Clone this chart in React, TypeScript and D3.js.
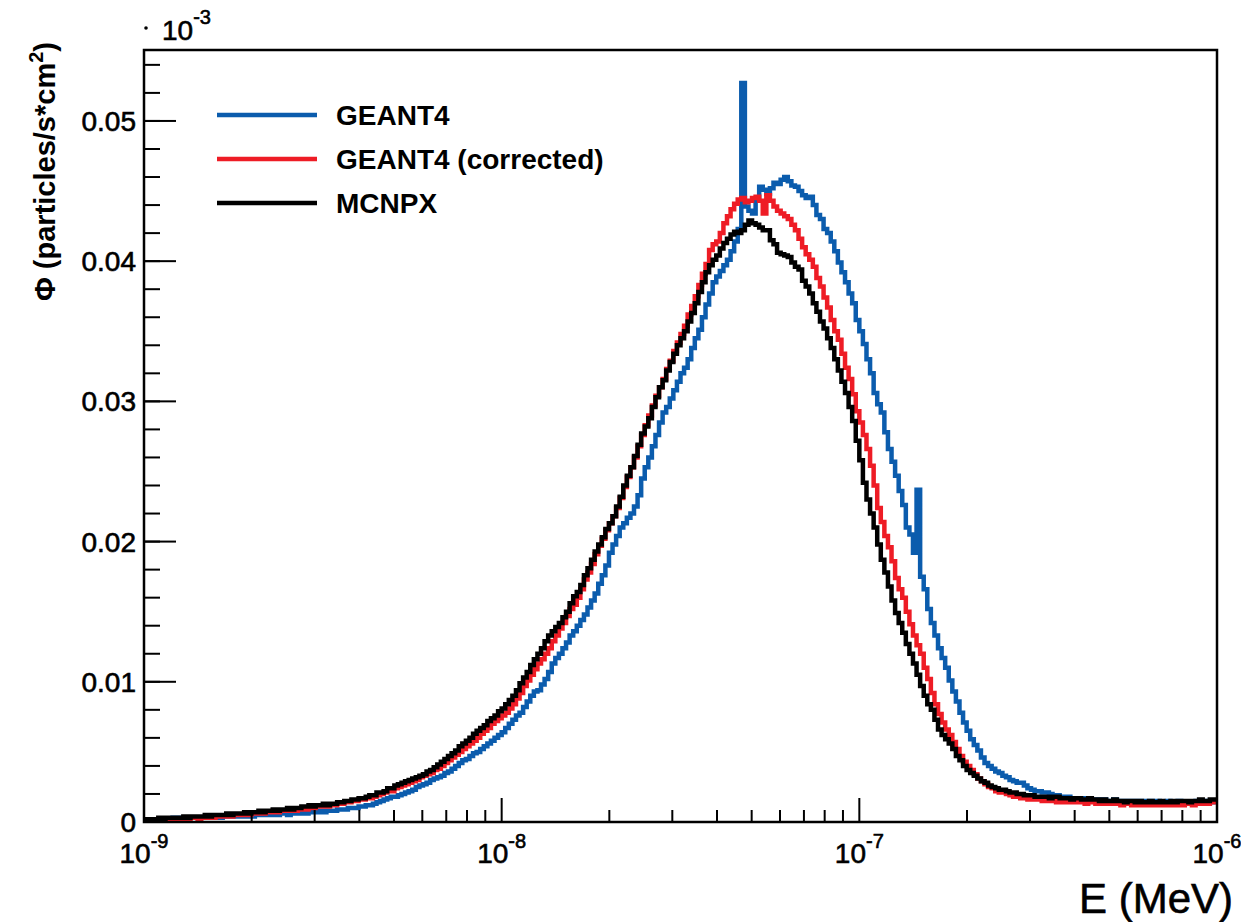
import React from "react";
import * as d3 from "d3";

// Histogram: 300 log-spaced bins from 1e-9 to 1e-6 MeV (0.01 decade each)
// Values in units of 1e-5 particles/s/cm^2 (axis shows value x 10^-3 -> label = v/100)
const LOG_START = -9;
const LOG_END = -6;
const BIN_DECADES = 0.01;

const geant4: number[] = [
  0.01,0.02,0.01,0.02,0.02,0.02,0.02,0.02,0.03,0.02,
  0.03,0.02,0.03,0.03,0.03,0.03,0.03,0.03,0.04,0.03,
  0.04,0.03,0.04,0.04,0.04,0.04,0.04,0.05,0.04,0.05,
  0.04,0.05,0.05,0.05,0.05,0.05,0.06,0.05,0.06,0.06,
  0.05,0.06,0.06,0.06,0.07,0.06,0.07,0.07,0.07,0.08,
  0.07,0.08,0.08,0.08,0.09,0.09,0.09,0.10,0.10,0.10,
  0.11,0.11,0.12,0.12,0.13,0.14,0.15,0.16,0.17,0.18,
  0.18,0.19,0.20,0.21,0.22,0.23,0.25,0.26,0.27,0.28,
  0.30,0.31,0.32,0.33,0.35,0.36,0.38,0.40,0.42,0.44,
  0.45,0.47,0.49,0.50,0.52,0.54,0.56,0.58,0.60,0.62,
  0.64,0.67,0.70,0.73,0.76,0.78,0.82,0.86,0.90,0.93,
  0.94,0.98,1.02,1.07,1.13,1.17,1.20,1.24,1.28,1.33,
  1.36,1.40,1.44,1.48,1.53,1.58,1.63,1.70,1.76,1.83,
  1.92,1.98,2.04,2.10,2.13,2.17,2.20,2.25,2.33,2.45,
  2.53,2.60,2.68,2.76,2.85,2.92,2.96,3.02,3.08,3.14,
  3.20,3.24,3.30,3.38,3.45,3.51,3.60,3.69,3.77,3.85,
  3.89,3.93,3.97,4.01,4.07,4.14,4.23,5.27,4.39,4.36,
  4.34,4.44,4.53,4.51,4.48,4.52,4.56,4.55,4.58,4.60,
  4.57,4.54,4.53,4.50,4.47,4.45,4.46,4.40,4.33,4.30,
  4.23,4.20,4.14,4.07,3.99,3.92,3.85,3.77,3.70,3.58,
  3.50,3.41,3.30,3.20,3.06,2.98,2.92,2.78,2.66,2.57,
  2.47,2.36,2.26,2.10,2.05,1.92,2.37,1.75,1.66,1.52,
  1.42,1.33,1.24,1.17,1.10,1.01,0.93,0.86,0.78,0.71,
  0.65,0.59,0.55,0.51,0.46,0.42,0.40,0.38,0.36,0.35,
  0.33,0.32,0.30,0.29,0.28,0.28,0.26,0.24,0.23,0.22,
  0.22,0.21,0.21,0.20,0.19,0.19,0.18,0.18,0.18,0.17,
  0.17,0.17,0.16,0.17,0.16,0.16,0.16,0.15,0.16,0.15,
  0.15,0.16,0.15,0.15,0.14,0.15,0.15,0.14,0.15,0.15,
  0.14,0.15,0.14,0.15,0.14,0.14,0.15,0.14,0.14,0.15,
  0.14,0.13,0.14,0.14,0.15,0.14,0.14,0.15,0.14,0.15,
];

const geant4Corrected: number[] = [
  0.02,0.01,0.02,0.01,0.02,0.02,0.02,0.01,0.02,0.02,
  0.02,0.03,0.02,0.03,0.03,0.02,0.03,0.03,0.04,0.03,
  0.04,0.04,0.04,0.05,0.04,0.05,0.05,0.05,0.06,0.05,
  0.06,0.06,0.07,0.06,0.07,0.07,0.08,0.07,0.08,0.08,
  0.08,0.09,0.08,0.09,0.10,0.09,0.10,0.10,0.11,0.11,
  0.12,0.11,0.12,0.12,0.13,0.13,0.14,0.14,0.15,0.15,
  0.16,0.16,0.17,0.17,0.18,0.19,0.20,0.21,0.22,0.22,
  0.24,0.25,0.26,0.27,0.28,0.29,0.30,0.32,0.33,0.34,
  0.35,0.37,0.38,0.40,0.42,0.44,0.46,0.48,0.50,0.52,
  0.54,0.56,0.58,0.60,0.63,0.65,0.67,0.70,0.72,0.74,
  0.76,0.78,0.81,0.84,0.88,0.92,0.97,1.01,1.05,1.09,
  1.13,1.16,1.20,1.24,1.29,1.33,1.38,1.42,1.47,1.52,
  1.55,1.60,1.66,1.73,1.78,1.84,1.91,1.97,2.02,2.08,
  2.13,2.18,2.24,2.31,2.39,2.46,2.53,2.60,2.68,2.76,
  2.83,2.90,2.97,3.04,3.10,3.16,3.23,3.29,3.36,3.42,
  3.48,3.54,3.62,3.68,3.75,3.83,3.91,3.98,4.08,4.12,
  4.14,4.20,4.27,4.32,4.37,4.41,4.44,4.45,4.42,4.43,
  4.45,4.46,4.43,4.34,4.47,4.43,4.39,4.36,4.34,4.32,
  4.30,4.26,4.22,4.16,4.10,4.05,4.01,3.96,3.88,3.82,
  3.74,3.67,3.58,3.50,3.44,3.34,3.24,3.16,3.05,2.93,
  2.85,2.76,2.66,2.54,2.40,2.24,2.14,2.04,1.96,1.86,
  1.74,1.66,1.60,1.50,1.41,1.33,1.26,1.20,1.10,1.02,
  0.92,0.84,0.77,0.71,0.66,0.62,0.57,0.52,0.47,0.43,
  0.40,0.37,0.34,0.31,0.29,0.27,0.25,0.24,0.22,0.21,
  0.21,0.20,0.19,0.18,0.18,0.17,0.17,0.16,0.17,0.16,
  0.16,0.15,0.16,0.15,0.15,0.14,0.15,0.14,0.15,0.14,
  0.14,0.15,0.14,0.13,0.14,0.14,0.13,0.14,0.13,0.14,
  0.13,0.13,0.14,0.12,0.13,0.13,0.12,0.13,0.12,0.13,
  0.12,0.13,0.12,0.12,0.13,0.12,0.13,0.12,0.12,0.13,
  0.12,0.13,0.13,0.12,0.13,0.13,0.14,0.13,0.14,0.14,
];

const mcnpx: number[] = [
  0.02,0.02,0.02,0.02,0.03,0.02,0.03,0.03,0.03,0.03,
  0.03,0.04,0.03,0.04,0.04,0.04,0.04,0.05,0.04,0.05,
  0.05,0.05,0.05,0.06,0.05,0.06,0.06,0.06,0.07,0.06,
  0.07,0.07,0.08,0.07,0.08,0.08,0.09,0.08,0.09,0.09,
  0.10,0.09,0.10,0.10,0.11,0.11,0.12,0.11,0.12,0.12,
  0.13,0.12,0.13,0.13,0.14,0.14,0.15,0.15,0.16,0.16,
  0.17,0.17,0.18,0.19,0.19,0.21,0.21,0.22,0.24,0.24,
  0.26,0.27,0.28,0.29,0.30,0.31,0.32,0.33,0.34,0.36,
  0.37,0.39,0.41,0.43,0.45,0.47,0.49,0.51,0.54,0.56,
  0.58,0.60,0.63,0.65,0.67,0.69,0.72,0.74,0.76,0.79,
  0.81,0.84,0.87,0.90,0.94,0.99,1.03,1.07,1.12,1.16,
  1.20,1.24,1.29,1.33,1.36,1.39,1.42,1.46,1.50,1.56,
  1.61,1.64,1.69,1.76,1.81,1.87,1.93,1.98,2.03,2.09,
  2.13,2.18,2.25,2.32,2.40,2.47,2.53,2.61,2.69,2.77,
  2.82,2.88,2.96,3.03,3.10,3.15,3.22,3.28,3.34,3.40,
  3.45,3.50,3.57,3.63,3.70,3.78,3.85,3.92,3.97,4.01,
  4.04,4.09,4.13,4.16,4.19,4.21,4.20,4.22,4.26,4.29,
  4.27,4.26,4.24,4.22,4.22,4.15,4.12,4.06,4.05,4.04,
  4.03,3.99,3.96,3.94,3.86,3.82,3.77,3.70,3.64,3.57,
  3.52,3.45,3.38,3.30,3.22,3.14,3.06,2.96,2.86,2.72,
  2.58,2.42,2.30,2.20,2.10,1.98,1.87,1.78,1.68,1.58,
  1.49,1.42,1.35,1.27,1.20,1.13,1.05,0.97,0.90,0.84,
  0.80,0.73,0.66,0.62,0.59,0.56,0.52,0.47,0.44,0.40,
  0.37,0.35,0.33,0.31,0.29,0.28,0.26,0.25,0.24,0.23,
  0.23,0.22,0.21,0.21,0.20,0.20,0.19,0.19,0.19,0.18,
  0.18,0.18,0.18,0.17,0.18,0.18,0.17,0.17,0.17,0.16,
  0.17,0.17,0.16,0.16,0.17,0.16,0.16,0.15,0.16,0.15,
  0.15,0.16,0.15,0.15,0.14,0.15,0.15,0.14,0.15,0.14,
  0.14,0.15,0.14,0.14,0.15,0.14,0.14,0.15,0.14,0.15,
  0.15,0.15,0.14,0.15,0.15,0.16,0.15,0.15,0.16,0.16,
];

const seriesNames = ["GEANT4", "GEANT4 (corrected)", "MCNPX"];
const seriesColors = ["#0b5cad", "#ee1c25", "#000000"];
const seriesData = [geant4, geant4Corrected, mcnpx];

const yTickValues = [0, 1, 2, 3, 4, 5];
const xDecades = [-9, -8, -7, -6];

const FONT = "'Liberation Sans', Arial, Helvetica, sans-serif";

export default function App() {
  const W = 1241, H = 922;
  const left = 144, right = 1217, top = 50, bottom = 822;
  const x = d3.scaleLog().domain([1e-9, 1e-6]).range([left, right]);
  const y = d3.scaleLinear().domain([0, 5.506]).range([bottom, top]);

  const line = d3
    .line<[number, number]>()
    .x((d) => x(d[0]))
    .y((d) => y(d[1]))
    .curve(d3.curveStepAfter);

  const paths = seriesData.map((vals) => {
    const pts: [number, number][] = vals.map((v, i) => [
      Math.pow(10, LOG_START + i * BIN_DECADES),
      v,
    ]);
    pts.push([Math.pow(10, LOG_END), vals[vals.length - 1]]);
    return line(pts) || "";
  });

  const yMinor = d3.range(0, 5.5, 0.2);
  const xMinor: number[] = [];
  for (let e = -9; e < -6; e++) {
    for (let k = 2; k <= 9; k++) xMinor.push(k * Math.pow(10, e));
  }

  const legendY = [115, 159, 203];
  const textStroke = { stroke: "#000", strokeWidth: 0.6 };

  return (
    <svg
      width={W}
      height={H}
      style={{ position: "absolute", left: 0, top: 0, background: "#fff" }}
      fontFamily={FONT}
    >
      <rect x={0} y={0} width={W} height={H} fill="#fff" />
      <defs>
        <clipPath id="frameClip">
          <rect x={left} y={top - 2} width={right - left} height={bottom - top + 2} />
        </clipPath>
      </defs>

      {/* histograms */}
      <g clipPath="url(#frameClip)">
        {paths.map((p, i) => (
          <path
            key={i}
            d={p}
            fill="none"
            stroke={seriesColors[i]}
            strokeWidth={4.5}
            strokeLinejoin="miter"
          />
        ))}
      </g>

      {/* y ticks */}
      {yMinor.map((v, i) => (
        <line key={"ym" + i} x1={left} x2={left + 16} y1={y(v)} y2={y(v)} stroke="#000" strokeWidth={2} />
      ))}
      {yTickValues.map((v) => (
        <g key={"yt" + v}>
          <line x1={left} x2={left + 32} y1={y(v)} y2={y(v)} stroke="#000" strokeWidth={2} />
          <text x={136} y={y(v) + 10} textAnchor="end" fontSize={28} fill="#000" {...textStroke}>
            {v === 0 ? "0" : (v / 100).toFixed(2)}
          </text>
        </g>
      ))}

      {/* x ticks */}
      {xMinor.map((v, i) => (
        <line key={"xm" + i} x1={x(v)} x2={x(v)} y1={bottom} y2={bottom - 12} stroke="#000" strokeWidth={2} />
      ))}
      {xDecades.map((e) => (
        <g key={"xt" + e}>
          <line x1={x(Math.pow(10, e))} x2={x(Math.pow(10, e))} y1={bottom} y2={bottom - 24} stroke="#000" strokeWidth={2} />
          <text x={x(Math.pow(10, e))} y={863} textAnchor="middle" fontSize={28} fill="#000" {...textStroke}>
            <tspan>10</tspan>
            <tspan dy={-15} fontSize={20}>{"-" + Math.abs(e)}</tspan>
          </text>
        </g>
      ))}

      {/* frame */}
      <rect x={left} y={top} width={right - left} height={bottom - top} fill="none" stroke="#000" strokeWidth={2.5} />

      {/* exponent label */}
      <circle cx={146} cy={28} r={1.8} fill="#000" />
      <text x={162} y={40} fontSize={28} fill="#000" {...textStroke}>
        <tspan>10</tspan>
        <tspan dy={-16} fontSize={20}>-3</tspan>
      </text>

      {/* axis titles */}
      <text
        transform="translate(55,42) rotate(-90)"
        textAnchor="end"
        fontSize={29}
        fontWeight="bold"
        fill="#000"
      >
        <tspan>Φ (particles/s*cm</tspan>
        <tspan dy={-12} fontSize={20}>2</tspan>
        <tspan dy={12}>)</tspan>
      </text>
      <text x={1233} y={913} textAnchor="end" fontSize={42} fill="#000" {...textStroke}>
        E (MeV)
      </text>

      {/* legend */}
      {seriesNames.map((n, i) => (
        <g key={"lg" + i}>
          <line x1={217} x2={317} y1={legendY[i]} y2={legendY[i]} stroke={seriesColors[i]} strokeWidth={4.5} />
          <text x={336} y={legendY[i] + 10} fontSize={28} fontWeight="bold" fill="#000">
            {n}
          </text>
        </g>
      ))}
    </svg>
  );
}
